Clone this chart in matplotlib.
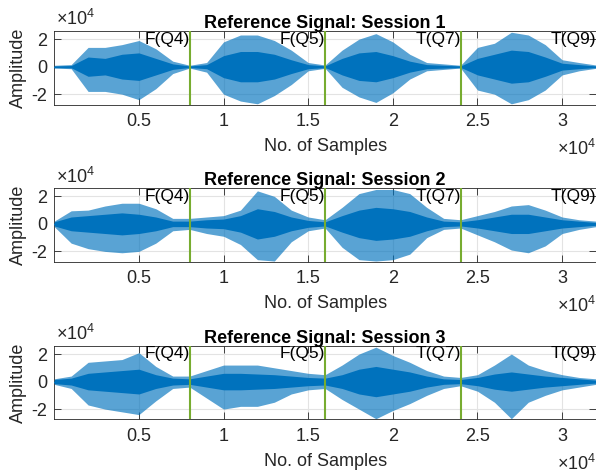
import numpy as np
import matplotlib
matplotlib.use('Agg')
import matplotlib.pyplot as plt
from matplotlib.ticker import FuncFormatter

plt.rcParams['font.family'] = ['Liberation Sans', 'DejaVu Sans']
plt.rcParams['mathtext.fontset'] = 'custom'
plt.rcParams['mathtext.rm'] = 'Liberation Sans'

# sample index (every 1000 samples), envelope values in units of 1e4
samples = np.arange(0, 33) * 1000

s1_upper = [0.1, 0.15, 1.4, 1.4, 1.6, 1.9, 1.3, 0.4, 0.1, 0.3, 1.8, 2.3, 2.3, 1.9, 1.2, 0.3, 0.12,
            1.2, 2.0, 2.4, 1.8, 0.9, 0.3, 0.2, 0.1, 1.4, 1.7, 2.5, 2.3, 1.6, 0.5, 0.3, 0.12]
s1_lower = [-0.1, -0.15, -1.8, -1.8, -2.0, -2.4, -1.6, -0.5, -0.1, -0.4, -2.0, -2.5, -2.7, -2.1, -1.3, -0.3, -0.12,
            -1.5, -2.2, -2.6, -1.9, -0.9, -0.3, -0.2, -0.1, -1.7, -2.0, -2.7, -2.4, -1.7, -0.6, -0.3, -0.12]
s1_core = [0.05, 0.08, 0.7, 0.6, 0.9, 1.0, 0.6, 0.2, 0.05, 0.15, 0.8, 1.1, 1.1, 0.9, 0.5, 0.15, 0.06,
           0.6, 1.0, 1.1, 0.8, 0.4, 0.15, 0.1, 0.05, 0.6, 0.9, 1.2, 1.1, 0.7, 0.25, 0.15, 0.05]

s2_upper = [0.2, 0.95, 1.0, 1.3, 1.5, 1.5, 1.1, 0.4, 0.4, 0.5, 0.6, 1.0, 2.4, 2.0, 1.0, 0.5, 0.3,
            1.2, 2.2, 2.5, 2.5, 2.2, 1.2, 0.4, 0.3, 0.6, 0.9, 1.3, 1.4, 1.0, 0.5, 0.3, 0.2]
s2_lower = [-0.2, -1.4, -1.8, -2.0, -2.1, -2.0, -1.4, -0.5, -0.4, -0.7, -0.9, -1.5, -2.6, -2.7, -1.3, -0.5, -0.3,
            -1.7, -2.6, -2.7, -2.6, -2.2, -1.0, -0.4, -0.3, -0.8, -1.3, -1.9, -2.1, -1.6, -0.7, -0.4, -0.2]
s2_core = [0.15, 0.5, 0.6, 0.7, 0.8, 0.7, 0.5, 0.2, 0.2, 0.3, 0.35, 0.6, 1.1, 0.9, 0.5, 0.25, 0.15,
           0.6, 1.0, 1.2, 1.1, 0.9, 0.5, 0.2, 0.15, 0.3, 0.5, 0.7, 0.7, 0.5, 0.3, 0.2, 0.1]

s3_upper = [0.2, 0.4, 1.4, 1.5, 1.6, 2.1, 1.1, 0.4, 0.4, 0.8, 1.2, 1.2, 1.2, 1.0, 0.8, 0.6, 0.5,
            1.2, 2.0, 2.5, 1.9, 1.4, 0.8, 0.4, 0.3, 0.5, 1.2, 2.0, 1.2, 0.8, 0.5, 0.3, 0.2]
s3_lower = [-0.2, -0.5, -1.7, -2.0, -2.2, -2.4, -1.4, -0.5, -0.4, -1.2, -2.0, -1.8, -1.8, -1.5, -0.9, -0.6, -0.5,
            -1.3, -2.0, -2.7, -2.1, -1.6, -1.0, -0.5, -0.3, -0.7, -1.5, -2.7, -1.5, -1.0, -0.6, -0.4, -0.2]
s3_core = [0.15, 0.25, 0.6, 0.7, 0.8, 0.9, 0.5, 0.25, 0.2, 0.4, 0.6, 0.6, 0.55, 0.5, 0.4, 0.3, 0.25,
           0.5, 0.9, 1.1, 0.9, 0.7, 0.4, 0.2, 0.15, 0.3, 0.55, 0.7, 0.55, 0.4, 0.3, 0.2, 0.1]

sessions = ['Session 1', 'Session 2', 'Session 3']
uppers = [s1_upper, s2_upper, s3_upper]
lowers = [s1_lower, s2_lower, s3_lower]
cores = [s1_core, s2_core, s3_core]

# question boundaries and labels
bounds = [8000, 16000, 24000, 32000]
q_labels = ['F(Q4)', 'F(Q5)', 'T(Q7)', 'T(Q9)']

blue = '#0072BD'
green = '#77AC30'
dark = '#262626'

fig = plt.figure(figsize=(5.96, 4.75), dpi=100)
bottoms = [0.780, 0.449, 0.117]
ylo, yhi = -27500, 26000

for i in range(3):
    ax = fig.add_axes([0.091, bottoms[i], 0.909, 0.155])
    up = np.array(uppers[i]) * 1e4
    lo = np.array(lowers[i]) * 1e4
    co = np.array(cores[i]) * 1e4
    ax.fill_between(samples, lo, up, color=blue, alpha=0.65, lw=0, zorder=2)
    ax.fill_between(samples, -co, co, color=blue, lw=0, zorder=3)
    ax.plot(samples, np.zeros(len(samples)), color=blue, lw=1, zorder=3)

    for b, lab in zip(bounds, q_labels):
        if b < 32000:
            ax.axvline(b, color=green, lw=1.5, zorder=4)
        ax.text(b, yhi - 500, lab, ha='right', va='top', fontsize=12.5, color='black', zorder=5)

    ax.set_xlim(0, 32000)
    ax.set_ylim(ylo, yhi)
    ax.set_xticks([5000, 10000, 15000, 20000, 25000, 30000])
    ax.set_yticks([-20000, 0, 20000])
    ax.xaxis.set_major_formatter(FuncFormatter(lambda v, p: '%g' % (v / 1e4)))
    ax.yaxis.set_major_formatter(FuncFormatter(lambda v, p: '%g' % (v / 1e4)))
    ax.tick_params(direction='in', length=5, width=0.6, colors=dark, labelsize=13,
                   top=True, right=True)
    ax.tick_params(axis='x', pad=6)
    ax.tick_params(axis='y', pad=5)
    ax.grid(True, color='#e3e3e3', lw=0.8, zorder=0)
    ax.set_axisbelow(True)
    for sp in ax.spines.values():
        sp.set_color(dark)
        sp.set_linewidth(0.6)

    ax.set_title('Reference Signal: ' + sessions[i], fontsize=13, fontweight='bold', pad=2)
    ax.set_xlabel('No. of Samples', fontsize=13, color=dark)
    ax.set_ylabel('Amplitude', fontsize=13, color=dark)
    ax.xaxis.set_label_coords(0.5, -0.45)
    ax.yaxis.set_label_coords(-0.05, 0.5)

    ax.text(0.004, 1.02, r'$\times10^{4}$', transform=ax.transAxes, ha='left', va='bottom',
            fontsize=13, color=dark)
    ax.text(1.0, -0.47, r'$\times10^{4}$', transform=ax.transAxes, ha='right', va='top',
            fontsize=13, color=dark)

fig.savefig('out.png', dpi=100)
